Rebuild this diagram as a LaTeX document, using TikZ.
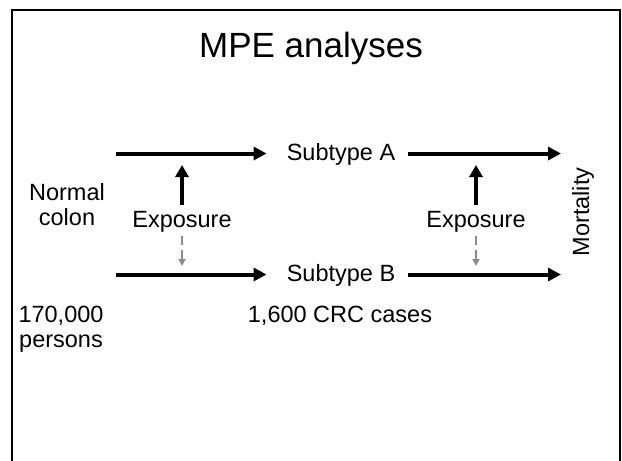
\documentclass[tikz,border=0pt]{standalone}
\usepackage{fontspec}
\setmainfont{Liberation Sans}
\usetikzlibrary{arrows.meta}

\begin{document}
\begin{tikzpicture}[x=1pt, y=-1pt,
  lbl/.style={inner sep=0pt, font=\fontsize{23.5}{25}\selectfont, align=center},
  flow/.style={line width=4pt, -{Triangle[length=13pt,width=13pt]}},
  effect/.style={line width=4pt, -{Triangle[length=12pt,width=13pt]}},
  weak/.style={line width=1.8pt, draw=black!45, dash pattern=on 9pt off 5pt,
               -{Triangle[length=7pt,width=7pt]}}]
  \useasboundingbox (0,0) rectangle (622,461);

  % open frame (no bottom edge)
  \draw[line width=2pt] (12,461) -- (12,10) -- (620,10) -- (620,461);

  % title
  \node[inner sep=0pt, anchor=base, font=\fontsize{35}{38}\selectfont] (title) at (311,57) {MPE analyses};

  % states
  \node[lbl, anchor=base] (subA) at (341,160) {Subtype A};
  \node[lbl, anchor=base] (subB) at (341,281) {Subtype B};
  \node[lbl, anchor=base] (normal) at (67,225) {Normal\\colon};
  \node[lbl, anchor=base, rotate=90] (mort) at (589,212) {Mortality};

  % exposures
  \node[lbl, anchor=base] (expL) at (182,227) {Exposure};
  \node[lbl, anchor=base] (expR) at (476,227) {Exposure};

  % counts
  \node[lbl, anchor=base] (persons) at (61,347) {170,000\\persons};
  \node[lbl, anchor=base] (cases) at (340,322) {1,600 CRC cases};

  % arrow end points
  \coordinate (inA) at (116,153.5);
  \coordinate (inB) at (116,274.5);
  \coordinate (outA) at (561,153.5);
  \coordinate (outB) at (561,274.5);
  \coordinate (hitAL) at (182,165);
  \coordinate (hitAR) at (476,165);
  \coordinate (hitBL) at (182,266);
  \coordinate (hitBR) at (476,266);

  % progression arrows
  \draw[flow, shorten >=20pt] (inA) -- (inA -| subA.west);
  \draw[flow, shorten <=13pt] (subA.east |- inA) -- (outA);
  \draw[flow, shorten >=20pt] (inB) -- (inB -| subB.west);
  \draw[flow, shorten <=13pt] (subB.east |- inB) -- (outB);

  % exposure effects
  \draw[effect, shorten <=6pt] (expL.north) -- (hitAL);
  \draw[effect, shorten <=6pt] (expR.north) -- (hitAR);
  \draw[weak, shorten <=4pt] (expL.south) -- (hitBL);
  \draw[weak, shorten <=4pt] (expR.south) -- (hitBR);
\end{tikzpicture}
\end{document}
